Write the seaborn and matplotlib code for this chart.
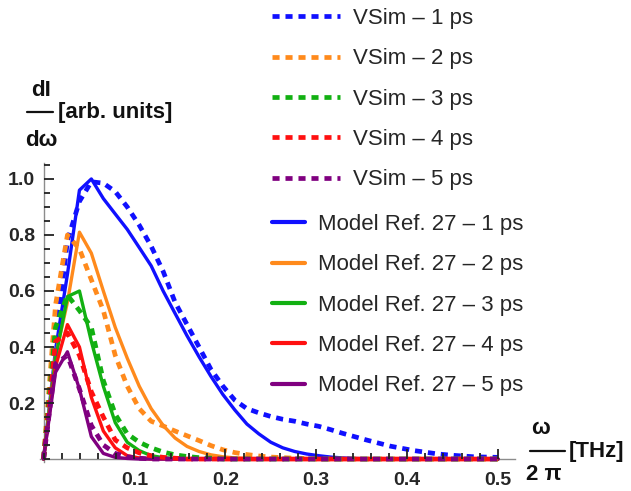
import numpy as np
import pandas as pd
import matplotlib
matplotlib.use("Agg")
import matplotlib.pyplot as plt
from matplotlib.ticker import MultipleLocator, FixedLocator
from matplotlib.lines import Line2D
import seaborn as sns

# ---------------- data ----------------
freq = [0.0, 0.0132, 0.0263, 0.0395, 0.0526, 0.0658, 0.0789, 0.0921, 0.1053, 0.1184,
        0.1316, 0.1447, 0.1579, 0.1711, 0.1842, 0.1974, 0.2105, 0.2237, 0.2368, 0.25,
        0.2632, 0.2763, 0.2895, 0.3026, 0.3158, 0.3289, 0.3421, 0.3553, 0.3684, 0.3816,
        0.3947, 0.4079, 0.4211, 0.4342, 0.4474, 0.4605, 0.4737, 0.4868, 0.5]

vsim_1ps = [0, 0.41, 0.78, 0.92, 0.99, 0.985, 0.955, 0.90, 0.835, 0.76, 0.67, 0.56, 0.48,
            0.40, 0.32, 0.26, 0.21, 0.18, 0.165, 0.152, 0.142, 0.135, 0.125, 0.117, 0.105,
            0.092, 0.08, 0.068, 0.057, 0.046, 0.038, 0.03, 0.024, 0.018, 0.014, 0.011,
            0.008, 0.007, 0.006]
vsim_2ps = [0, 0.55, 0.80, 0.75, 0.64, 0.53, 0.37, 0.26, 0.18, 0.135, 0.118, 0.10, 0.083,
            0.066, 0.048, 0.033, 0.023, 0.016, 0.011, 0.007, 0.005, 0.003, 0.002] + [0] * 16
vsim_3ps = [0, 0.47, 0.585, 0.53, 0.47, 0.28, 0.16, 0.09, 0.06, 0.04, 0.025, 0.015, 0.009,
            0.005, 0.003] + [0] * 24
vsim_4ps = [0, 0.42, 0.45, 0.37, 0.24, 0.15, 0.068, 0.04, 0.022, 0.012, 0.006, 0.003] + [0] * 27
vsim_5ps = [0, 0.34, 0.37, 0.25, 0.12, 0.05, 0.02, 0.008, 0.003] + [0] * 30

model_1ps = [0, 0.39, 0.66, 0.96, 1.0, 0.93, 0.875, 0.82, 0.755, 0.69, 0.60, 0.52, 0.44,
             0.365, 0.295, 0.23, 0.175, 0.125, 0.09, 0.06, 0.04, 0.027, 0.018, 0.012,
             0.007, 0.004, 0.002, 0.001] + [0] * 11
model_2ps = [0, 0.37, 0.56, 0.81, 0.735, 0.60, 0.47, 0.36, 0.26, 0.18, 0.12, 0.075, 0.045,
             0.027, 0.015, 0.008, 0.004, 0.002] + [0] * 21
model_3ps = [0, 0.36, 0.58, 0.60, 0.42, 0.26, 0.13, 0.06, 0.03, 0.012, 0.005, 0.002] + [0] * 27
model_4ps = [0, 0.33, 0.48, 0.40, 0.22, 0.10, 0.04, 0.012, 0.004] + [0] * 30
model_5ps = [0, 0.31, 0.383, 0.25, 0.08, 0.02, 0.006, 0.002] + [0] * 31

vsim_labels = ["VSim \u2013 1 ps", "VSim \u2013 2 ps", "VSim \u2013 3 ps", "VSim \u2013 4 ps", "VSim \u2013 5 ps"]
model_labels = ["Model Ref. 27 \u2013 1 ps", "Model Ref. 27 \u2013 2 ps", "Model Ref. 27 \u2013 3 ps",
                "Model Ref. 27 \u2013 4 ps", "Model Ref. 27 \u2013 5 ps"]
colors = ["#1010FF", "#FF8A1C", "#12B012", "#FF1010", "#800080"]

x_ticks = [0.1, 0.2, 0.3, 0.4, 0.5]
x_ticklabels = ["0.1", "0.2", "0.3", "0.4", "0.5"]
y_ticks = [0.2, 0.4, 0.6, 0.8, 1.0]
y_ticklabels = ["0.2", "0.4", "0.6", "0.8", "1.0"]

vsim_series = [vsim_1ps, vsim_2ps, vsim_3ps, vsim_4ps, vsim_5ps]
model_series = [model_1ps, model_2ps, model_3ps, model_4ps, model_5ps]

# ---------------- figure ----------------
sns.set_style("white")
plt.rcParams["font.family"] = ["Liberation Sans", "DejaVu Sans"]
plt.rcParams["xtick.bottom"] = True
plt.rcParams["ytick.left"] = True

W, H = 631, 491
fig = plt.figure(figsize=(W / 100, H / 100), dpi=100)
ax = fig.add_axes([39.9 / W, (H - 462.4) / H, 475.4 / W, 299.4 / H])

def px(x, y):
    return x / W, 1 - y / H

solid_handles = []
for ys, lab, c in zip(model_series, model_labels, colors):
    df = pd.DataFrame({"f": freq, "I": ys})
    sns.lineplot(data=df, x="f", y="I", ax=ax, color=c, lw=2.4, legend=False,
                 estimator=None, sort=False, zorder=2)
    solid_handles.append(Line2D([], [], color=c, lw=3.0, label=lab))

dash_handles = []
for ys, lab, c in zip(vsim_series, vsim_labels, colors):
    df = pd.DataFrame({"f": freq, "I": ys})
    sns.lineplot(data=df, x="f", y="I", ax=ax, color=c, lw=3.4, legend=False,
                 estimator=None, sort=False, zorder=2.2, dashes=False)
    ln = ax.lines[-1]
    ln.set_dashes((1.5, 1.25))
    ln.set_dash_capstyle("butt")
    dash_handles.append(Line2D([], [], color=c, lw=3.4, dashes=(1.5, 1.25),
                               dash_capstyle="butt", label=lab))

ax.set_xlim(-0.004, 0.519)
ax.set_ylim(-0.012, 1.057)
ax.set_xlabel("")
ax.set_ylabel("")

for s in ["top", "right"]:
    ax.spines[s].set_visible(False)
for s in ["left", "bottom"]:
    ax.spines[s].set_position(("data", 0))
    ax.spines[s].set_color("#8c8c8c")
    ax.spines[s].set_linewidth(1.0)
    ax.spines[s].set_zorder(1)

ax.xaxis.set_major_locator(FixedLocator(x_ticks))
ax.set_xticklabels(x_ticklabels)
ax.yaxis.set_major_locator(FixedLocator(y_ticks))
ax.set_yticklabels(y_ticklabels)
ax.xaxis.set_minor_locator(MultipleLocator(0.02))
ax.yaxis.set_minor_locator(MultipleLocator(0.05))
ax.tick_params(which="both", direction="in", color="#222222", width=1.3,
               bottom=True, left=True, top=False, right=False)
ax.tick_params(which="major", length=7)
ax.tick_params(which="minor", length=4.5)
ax.tick_params(axis="x", which="major", pad=9, labelsize=14)
ax.tick_params(axis="y", which="major", pad=6, labelsize=14)
for t in ax.get_xticklabels() + ax.get_yticklabels():
    t.set_fontweight("bold")
ax.xaxis.set_zorder(5)
ax.yaxis.set_zorder(5)
ax.patch.set_alpha(0)

# legends
leg1 = ax.legend(handles=dash_handles, loc="upper left",
                 bbox_to_anchor=px(272, 8), bbox_transform=fig.transFigure,
                 frameon=False, fontsize=16, handlelength=3.06, handletextpad=0.58,
                 labelspacing=0.87, borderpad=0, borderaxespad=0)
ax.add_artist(leg1)
leg2 = ax.legend(handles=solid_handles, loc="upper left",
                 bbox_to_anchor=px(272, 214), bbox_transform=fig.transFigure,
                 frameon=False, fontsize=16, handlelength=1.5, handletextpad=0.55,
                 labelspacing=0.87, borderpad=0, borderaxespad=0)

# y-axis label (fraction dI/dω)
lab_kw = dict(fontsize=16, fontweight="bold", color="#111111")
fig.text(*px(41, 91), "dI", ha="center", va="center", **lab_kw)
fig.add_artist(Line2D([27 / W, 53 / W], [1 - 112 / H, 1 - 112 / H], color="#111111", lw=1.6))
fig.text(*px(41, 140), "d\u03c9", ha="center", va="center", **lab_kw)
fig.text(*px(58, 112), "[arb. units]", ha="left", va="center", **lab_kw)

# x-axis label (fraction ω/2π)
fig.text(*px(541, 429), "\u03c9", ha="center", va="center", **lab_kw)
fig.add_artist(Line2D([530 / W, 565 / W], [1 - 451 / H, 1 - 451 / H], color="#111111", lw=1.6))
fig.text(*px(544, 475), "2 \u03c0", ha="center", va="center", **lab_kw)
fig.text(*px(569, 451), "[THz]", ha="left", va="center", **lab_kw)

fig.savefig("out.png", dpi=100)
